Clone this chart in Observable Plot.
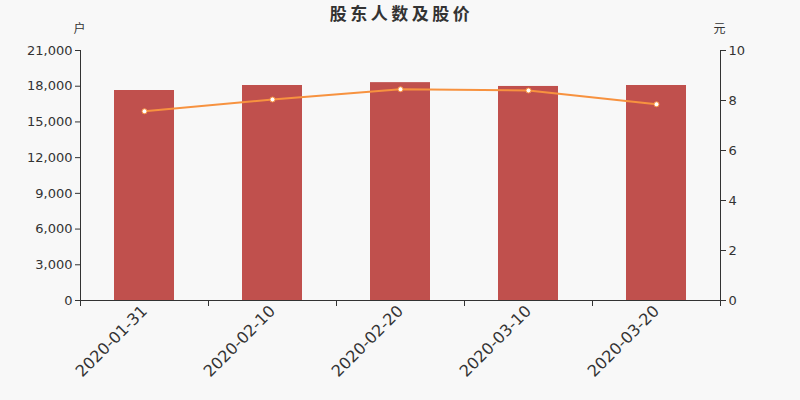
<!DOCTYPE html>
<html>
<head>
<meta charset="utf-8">
<script src="https://cdn.jsdelivr.net/npm/d3@7"></script>
<script src="https://cdn.jsdelivr.net/npm/@observablehq/plot@0.6"></script>
<style>
  html, body { margin: 0; padding: 0; background: #f8f8f8; }
  #chart { width: 800px; height: 400px; }
</style>
</head>
<body>
<div id="chart"></div>
<script>
const title = "股东人数及股价";
const leftUnit = "户";
const rightUnit = "元";
const dates = ["2020-01-31", "2020-02-10", "2020-02-20", "2020-03-10", "2020-03-20"];
const holders = [17640, 18060, 18300, 17980, 18060];
const prices = [7.57, 8.04, 8.45, 8.40, 7.85];
const leftTicks = [0, 3000, 6000, 9000, 12000, 15000, 18000, 21000];
const rightTicks = [0, 2, 4, 6, 8, 10];
const leftMax = 21000;
const rightMax = 10;
const k = leftMax / rightMax;

const data = dates.map((d, i) => ({date: d, holders: holders[i], price: prices[i]}));

const ink = "#333333";
const cjk = "Noto Sans CJK SC, sans-serif";
const chart = Plot.plot({
  width: 800,
  height: 400,
  marginLeft: 80,
  marginRight: 80,
  marginTop: 50,
  marginBottom: 100,
  style: {background: "#f8f8f8", fontFamily: "DejaVu Sans, sans-serif", color: ink},
  x: {type: "band", domain: dates, padding: 0},
  y: {domain: [0, leftMax]},
  marks: [
    Plot.barY(data, {x: "date", y: "holders", fill: "#c0504d", insetLeft: 34, insetRight: 34}),
    Plot.line(data, {x: "date", y: d => d.price * k, stroke: "#f7923f", strokeWidth: 2}),
    Plot.dot(data, {x: "date", y: d => d.price * k, r: 2.5, fill: "white", stroke: "#f7923f", strokeWidth: 1}),
    Plot.frame({anchor: "left", stroke: ink}),
    Plot.frame({anchor: "right", stroke: ink}),
    Plot.frame({anchor: "bottom", stroke: ink}),
    Plot.axisY({ticks: leftTicks, tickFormat: d3.format(","), tickSize: 5, tickPadding: 3, fontSize: 13, color: ink, label: null}),
    Plot.axisY({anchor: "right", ticks: rightTicks.map(v => v * k), tickFormat: d => d3.format("d")(d / k), tickSize: 5, tickPadding: 3, fontSize: 13, color: ink, label: null}),
    Plot.axisX({tickSize: 6, tickFormat: () => "", dx: -64, color: ink, label: null}),
    Plot.axisX({ticks: [dates[dates.length - 1]], tickSize: 6, tickFormat: () => "", dx: 64, color: ink, label: null}),
    Plot.axisX({tickSize: 0, tickRotate: -45, tickPadding: 8, fontSize: 16, color: ink, label: null}),
    Plot.text([title], {frameAnchor: "top", lineAnchor: "middle", dy: -36, dx: 1, fontSize: 17, fontWeight: "bold", fill: ink, fontFamily: cjk}),
    Plot.text([leftUnit], {frameAnchor: "top-left", textAnchor: "middle", lineAnchor: "middle", dx: -1, dy: -21, fontSize: 12, fill: ink, fontFamily: cjk}),
    Plot.text([rightUnit], {frameAnchor: "top-right", textAnchor: "middle", lineAnchor: "middle", dx: -1, dy: -21, fontSize: 12, fill: ink, fontFamily: cjk})
  ]
});
d3.select(chart).selectAll("text").filter(function() { return this.textContent === title; })
  .style("letter-spacing", "3.5px");
document.getElementById("chart").appendChild(chart);
</script>
</body>
</html>
